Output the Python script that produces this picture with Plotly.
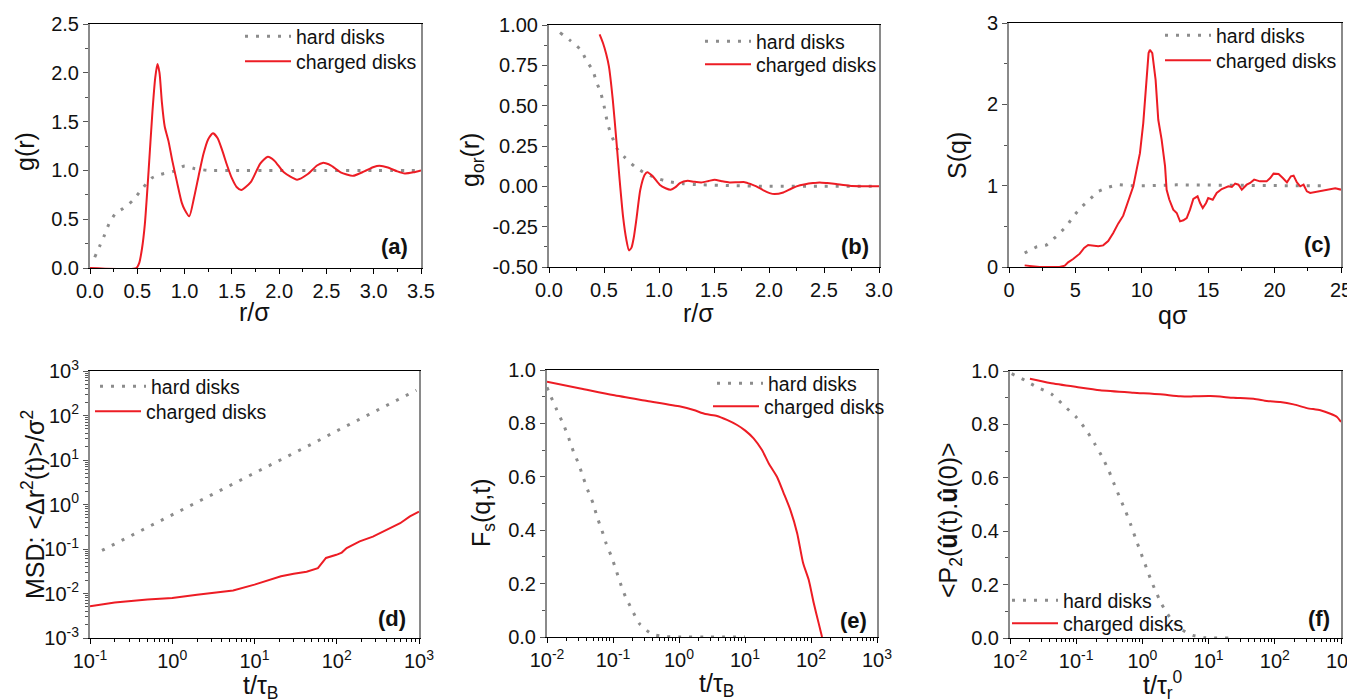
import plotly.graph_objects as go

S = 8  # browser body margin offset (page pixels)
W, H = 1355 - S, 700 - S
RED = "#ed1c24"
GRAY = "#8c8c8c"
AXGRAY = "#8a8a8a"
FONT = "Liberation Sans, Arial, sans-serif"

# ---------------- data ----------------
# (a) g(r)
a_hard_r = [0.05, 0.1, 0.15, 0.2, 0.27, 0.35, 0.45, 0.55, 0.65, 0.75, 0.88, 1.0, 1.1, 1.25, 1.5, 2.0, 2.5, 3.0, 3.5]
a_hard_g = [0.11, 0.22, 0.33, 0.45, 0.56, 0.61, 0.69, 0.81, 0.92, 0.96, 0.99, 1.045, 1.02, 1.0, 1.0, 1.0, 1.0, 1.0, 1.0]
a_chg_r = [0.0, 0.49, 0.52, 0.55, 0.58, 0.62, 0.66, 0.69, 0.713, 0.735, 0.76, 0.79, 0.83, 0.87, 0.92, 0.97,
           1.0, 1.05, 1.1, 1.15, 1.2, 1.25, 1.3, 1.35, 1.4, 1.45, 1.5, 1.55, 1.6, 1.7, 1.8, 1.88, 1.95, 2.05,
           2.19, 2.3, 2.4, 2.46, 2.55, 2.65, 2.78, 2.9, 3.0, 3.06, 3.15, 3.25, 3.33, 3.42, 3.5]
a_chg_g = [0.0, 0.0, 0.05, 0.2, 0.45, 1.0, 1.6, 1.95, 2.09, 2.0, 1.7, 1.45, 1.3, 1.1, 0.88, 0.67,
           0.6, 0.53, 0.72, 0.95, 1.17, 1.32, 1.38, 1.33, 1.2, 1.05, 0.92, 0.83, 0.80, 0.88, 1.07, 1.14, 1.1, 0.98,
           0.905, 0.96, 1.05, 1.077, 1.05, 0.98, 0.944, 0.99, 1.035, 1.047, 1.03, 0.99, 0.968, 0.98, 1.0]

# (b) g_or(r)
b_hard_r = [0.1, 0.2, 0.29, 0.34, 0.4, 0.43, 0.47, 0.5, 0.536, 0.573, 0.612, 0.688, 0.78, 0.87, 0.976,
            1.08, 1.22, 1.37, 1.67, 2.0, 2.5, 3.0]
b_hard_g = [0.953, 0.90, 0.845, 0.78, 0.715, 0.65, 0.58, 0.50, 0.38, 0.31, 0.24, 0.18, 0.123, 0.082, 0.051,
            0.03, 0.016, 0.01, 0.004, 0.0, 0.0, 0.0]
b_chg_r = [0.46, 0.49, 0.52, 0.545, 0.58, 0.612, 0.642, 0.673, 0.703, 0.727, 0.75, 0.77, 0.794, 0.83, 0.87,
           0.894, 0.945, 1.006, 1.06, 1.106, 1.15, 1.19, 1.26, 1.32, 1.385, 1.45, 1.506, 1.57, 1.64, 1.71,
           1.78, 1.84, 1.885, 1.95, 2.006, 2.05, 2.13, 2.2, 2.25, 2.33, 2.4, 2.46, 2.53, 2.61, 2.73, 2.85, 3.0]
b_chg_g = [0.942, 0.89, 0.82, 0.742, 0.536, 0.288, 0.041, -0.186, -0.33, -0.397, -0.38, -0.32, -0.207, -0.021,
           0.072, 0.088, 0.061, 0.01, -0.012, -0.021, -0.005, 0.02, 0.034, 0.028, 0.024, 0.033, 0.041, 0.032,
           0.024, 0.025, 0.026, 0.012, 0.0, -0.025, -0.042, -0.048, -0.038, -0.015, 0.0, 0.013, 0.02, 0.024,
           0.02, 0.014, 0.004, 0.001, 0.0]

# (c) S(q)
c_hard_q = [1.18, 2.06, 2.82, 3.57, 4.33, 4.88, 5.51, 6.14, 6.72, 7.47, 8.22, 9.1, 10.5, 12.6, 15.0, 18.0, 21.0, 23.5]
c_hard_s = [0.172, 0.246, 0.27, 0.377, 0.5, 0.63, 0.746, 0.836, 0.93, 0.98, 1.012, 1.0, 1.0, 1.01, 1.005, 1.0, 1.0, 1.0]
c_chg_q = [1.18, 1.8, 2.3, 3.8, 4.2, 4.45, 4.83, 5.33, 5.66, 5.96, 6.34, 6.72, 7.09, 7.47, 7.85, 8.22, 8.6,
           8.85, 9.1, 9.36, 9.61, 9.86, 10.11, 10.31, 10.51, 10.61, 10.79, 11.04, 11.24, 11.49, 11.75, 11.87,
           12.07, 12.37, 12.63, 12.88, 13.13, 13.38, 13.63, 13.88, 14.2, 14.39, 14.59, 14.84, 15.0, 15.34,
           15.64, 16.02, 16.52, 16.78, 17.03, 17.28, 17.53, 17.9, 18.16, 18.46, 18.9, 19.4, 19.67, 19.92,
           20.3, 20.62, 20.93, 21.23, 21.43, 21.68, 21.93, 22.18, 22.43, 22.68, 23.19, 23.69, 24.2, 24.57, 25.0]
c_chg_s = [0.02, 0.008, 0.0, 0.0, 0.016, 0.057, 0.098, 0.164, 0.234, 0.27, 0.262, 0.254, 0.266, 0.32, 0.418,
           0.533, 0.631, 0.746, 0.869, 0.992, 1.197, 1.40, 1.77, 2.22, 2.63, 2.67, 2.63, 2.30, 1.81, 1.57, 1.24,
           0.95, 0.83, 0.705, 0.664, 0.561, 0.574, 0.602, 0.705, 0.836, 0.869, 0.787, 0.725, 0.787, 0.848,
           0.828, 0.91, 0.959, 0.992, 0.984, 1.025, 1.012, 0.951, 1.012, 1.033, 1.074, 1.053, 1.053, 1.094,
           1.148, 1.144, 1.094, 1.041, 1.115, 1.123, 1.041, 0.992, 1.012, 0.93, 0.91, 0.926, 0.943, 0.959,
           0.967, 0.951]

# (d) MSD
d_hard_t = [0.14, 0.2, 0.3, 0.5, 1, 2, 3, 5, 10, 20, 30, 50, 100, 200, 300, 500, 930]
d_hard_m = [0.093, 0.13, 0.19, 0.30, 0.58, 1.1, 1.6, 2.6, 5.1, 9.8, 14.5, 23, 45, 87, 128, 205, 370]
d_chg_t = [0.1, 0.2, 0.5, 1, 2, 5.5, 10, 15.5, 21, 30, 43, 59, 66, 74, 99, 115, 132, 190, 275, 400, 590, 775, 1000]
d_chg_m = [0.00515, 0.0063, 0.0073, 0.0079, 0.0094, 0.0117, 0.0158, 0.020, 0.0243, 0.0279, 0.0309, 0.037,
           0.048, 0.063, 0.074, 0.083, 0.105, 0.148, 0.19, 0.27, 0.38, 0.54, 0.69]

# (e) Fs(q,t)
e_hard_t = [0.01, 0.0112, 0.0141, 0.0179, 0.0214, 0.0251, 0.0302, 0.0351, 0.0413, 0.0501, 0.0575, 0.068,
            0.0783, 0.0944, 0.111, 0.129, 0.154, 0.194, 0.251, 0.389, 0.589, 1.0, 3.0, 10.0]
e_hard_f = [0.935, 0.906, 0.85, 0.794, 0.744, 0.695, 0.648, 0.60, 0.551, 0.50, 0.449, 0.399, 0.352, 0.302,
            0.252, 0.202, 0.152, 0.102, 0.05, 0.011, 0.002, 0.0, 0.0, 0.0]
e_chg_t = [0.01, 0.032, 0.1, 0.33, 1.05, 1.67, 2.51, 3.77, 5.33, 7.59, 10.1, 13.5, 18.1, 22.9, 30.5, 38.5,
           48.6, 61.7, 75.9, 92.3, 110, 130.6, 147]
e_chg_f = [0.956, 0.931, 0.906, 0.884, 0.863, 0.85, 0.835, 0.828, 0.813, 0.794, 0.773, 0.744, 0.70, 0.65,
           0.60, 0.539, 0.476, 0.389, 0.277, 0.214, 0.127, 0.052, 0.0]

# (f) <P2(u(t).u(0))>
f_hard_t = [0.0106, 0.0169, 0.0253, 0.0427, 0.0661, 0.102, 0.145, 0.193, 0.251, 0.314, 0.378, 0.46, 0.555,
            0.668, 0.785, 0.925, 1.1, 1.31, 1.58, 1.96, 2.57, 3.72, 5.78, 8.91, 20.0]
f_hard_p = [0.99, 0.965, 0.94, 0.913, 0.869, 0.825, 0.775, 0.725, 0.675, 0.624, 0.574, 0.523, 0.476, 0.424,
            0.375, 0.326, 0.276, 0.225, 0.176, 0.126, 0.079, 0.035, 0.01, 0.001, 0.0]
f_chg_t = [0.02, 0.0403, 0.102, 0.229, 0.733, 1.85, 3.72, 5.89, 10.6, 23.8, 47.9, 75.9, 121, 192, 306, 488,
           692, 871, 1000]
f_chg_p = [0.971, 0.955, 0.94, 0.928, 0.919, 0.913, 0.905, 0.905, 0.906, 0.90, 0.896, 0.888, 0.884, 0.875,
           0.861, 0.853, 0.84, 0.828, 0.809]

log_tickvals_d = [0.1, 1, 10, 100, 1000]
log_ticktext_d = ["10<sup>-1</sup>", "10<sup>0</sup>", "10<sup>1</sup>", "10<sup>2</sup>", "10<sup>3</sup>"]
log_yvals_d = [0.001, 0.01, 0.1, 1, 10, 100, 1000]
log_ytext_d = ["10<sup>-3</sup>", "10<sup>-2</sup>", "10<sup>-1</sup>", "10<sup>0</sup>",
               "10<sup>1</sup>", "10<sup>2</sup>", "10<sup>3</sup>"]
log_tickvals_ef = [0.01, 0.1, 1, 10, 100, 1000]
log_ticktext_ef = ["10<sup>-2</sup>", "10<sup>-1</sup>", "10<sup>0</sup>", "10<sup>1</sup>",
                   "10<sup>2</sup>", "10<sup>3</sup>"]


# ---------------- figure ----------------
def X(px):
    return (px - S) / W


def Y(py):
    return 1 - (py - S) / H


fig = go.Figure()
DOT = dict(color=GRAY, width=3, dash="3px,8px")
SOLID = dict(color=RED, width=2)

panels = [
    (1, a_hard_r, a_hard_g, a_chg_r, a_chg_g, "spline"),
    (2, b_hard_r, b_hard_g, b_chg_r, b_chg_g, "spline"),
    (3, c_hard_q, c_hard_s, c_chg_q, c_chg_s, "linear"),
    (4, d_hard_t, d_hard_m, d_chg_t, d_chg_m, "linear"),
    (5, e_hard_t, e_hard_f, e_chg_t, e_chg_f, "spline"),
    (6, f_hard_t, f_hard_p, f_chg_t, f_chg_p, "spline"),
]
for i, hx, hy, cx, cy, shp in panels:
    xa = "x" if i == 1 else "x%d" % i
    ya = "y" if i == 1 else "y%d" % i
    lh = "legend" if i == 1 else "legend%d" % (2 * i - 1)
    lc = "legend%d" % (2 * i)
    hl = dict(DOT, shape="spline", smoothing=0.6) if shp == "spline" else dict(DOT)
    cl = dict(SOLID, shape="spline", smoothing=0.6) if shp == "spline" else dict(SOLID)
    fig.add_trace(go.Scatter(x=hx, y=hy, mode="lines", name="hard disks", line=hl, showlegend=True,
                             xaxis=xa, yaxis=ya, legend=lh))
    fig.add_trace(go.Scatter(x=cx, y=cy, mode="lines", name="charged disks", line=cl, showlegend=True,
                             xaxis=xa, yaxis=ya, legend=lc))

tickfont = dict(family=FONT, size=20, color="#111111")


def xax(domain, rng, log=False, **kw):
    d = dict(domain=domain, range=rng, type="log" if log else "linear",
             showline=True, linecolor="black", linewidth=1, mirror=True,
             ticks="outside", ticklen=5, tickwidth=1, tickcolor="black", layer="below traces",
             showgrid=False, zeroline=False, tickfont=tickfont, automargin=False,
             ticklabeloverflow="allow")
    d.update(kw)
    return d


def yax(domain, rng, log=False, **kw):
    d = dict(domain=domain, range=rng, type="log" if log else "linear",
             showline=True, linecolor=AXGRAY, linewidth=2, mirror=True,
             ticks="outside", ticklen=5, tickwidth=1, tickcolor="#555555",
             showgrid=False, zeroline=False, tickfont=tickfont, automargin=False,
             ticklabeloverflow="allow")
    d.update(kw)
    return d


def minor_lin(dt, col="black"):
    return dict(ticks="outside", ticklen=3, dtick=dt, tickcolor=col, showgrid=False)


def minor_log(col="black"):
    return dict(ticks="outside", ticklen=3, dtick="D1", tickcolor=col, showgrid=False)


fig.update_layout(
    width=W, height=H, margin=dict(l=0, r=0, t=0, b=0),
    paper_bgcolor="white", plot_bgcolor="white", showlegend=True,
    font=dict(family=FONT, size=19, color="#111111"),
    xaxis=xax([X(90), X(421)], [0, 3.5], dtick=0.5, tickformat=".1f", minor=minor_lin(0.25)),
    yaxis=yax([Y(268), Y(24)], [0, 2.5], dtick=0.5, tickformat=".1f", minor=minor_lin(0.25, "#555555"), anchor="x"),
    xaxis2=xax([X(549), X(879)], [0, 3.0], dtick=0.5, tickformat=".1f", minor=minor_lin(0.25), anchor="y2"),
    yaxis2=yax([Y(267), Y(25)], [-0.5, 1.0], tickmode="array",
               tickvals=[-0.5, -0.25, 0, 0.25, 0.5, 0.75, 1.0],
               ticktext=["-0.50", "-0.25", "0.00", "0.25", "0.50", "0.75", "1.00"],
               minor=minor_lin(0.125, "#555555"), anchor="x2"),
    xaxis3=xax([X(1009), X(1341)], [0, 25], dtick=5, minor=minor_lin(2.5), anchor="y3"),
    yaxis3=yax([Y(267), Y(23)], [0, 3], dtick=1, minor=minor_lin(0.5, "#555555"), anchor="x3"),
    xaxis4=xax([X(90), X(419)], [-1, 3], log=True, tickmode="array", tickvals=log_tickvals_d,
               ticktext=log_ticktext_d, minor=minor_log(), anchor="y4"),
    yaxis4=yax([Y(638), Y(371)], [-3, 3], log=True, tickmode="array", tickvals=log_yvals_d,
               ticktext=log_ytext_d, minor=minor_log("#555555"), anchor="x4"),
    xaxis5=xax([X(547), X(877)], [-2, 3], log=True, tickmode="array", tickvals=log_tickvals_ef,
               ticktext=log_ticktext_ef, minor=minor_log(), anchor="y5"),
    yaxis5=yax([Y(637), Y(370)], [0, 1], dtick=0.2, tickformat=".1f", minor=minor_lin(0.1, "#555555"), anchor="x5"),
    xaxis6=xax([X(1010), X(1341)], [-2, 3], log=True, tickmode="array", tickvals=log_tickvals_ef,
               ticktext=log_ticktext_ef, minor=minor_log(), anchor="y6"),
    yaxis6=yax([Y(638), Y(371)], [0, 1], dtick=0.2, tickformat=".1f", minor=minor_lin(0.1, "#555555"), anchor="x6"),
)

legfont = dict(family=FONT, size=19.5, color="#111111")
# legend box (left, top) in page pixels: one legend per entry
leg_pos = {
    "legend": (240, 17), "legend2": (240, 42),
    "legend3": (700, 22), "legend4": (700, 45),
    "legend5": (1160, 16), "legend6": (1160, 41),
    "legend7": (95, 367), "legend8": (90, 392),
    "legend9": (712, 364), "legend10": (708, 387),
    "legend11": (1007, 581), "legend12": (1007, 604),
}
for k, (lx, ly) in leg_pos.items():
    fig.update_layout({k: dict(x=X(lx), y=Y(ly), xanchor="left", yanchor="top", xref="paper", yref="paper",
                               bgcolor="rgba(0,0,0,0)", borderwidth=0, font=legfont, itemwidth=46,
                               visible=True)})

ann = []
# panel labels
for txt, px, py in [("(a)", 394, 246), ("(b)", 855, 246), ("(c)", 1317, 245),
                    ("(d)", 392, 618), ("(e)", 853, 620), ("(f)", 1319, 618)]:
    ann.append(dict(text="<b>%s</b>" % txt, x=X(px), y=Y(py), xref="paper", yref="paper",
                    showarrow=False, font=dict(family=FONT, size=22, color="#111111"),
                    xanchor="center", yanchor="middle"))
# axis titles
TF = dict(family=FONT, size=25, color="#111111")
for txt, px, py, ang in [
    ("g(r)", 25, 152, -90),
    ("r/σ", 254, 312, 0),
    ("g<sub>or</sub>(r)", 472, 160, -90),
    ("r/σ", 698, 313, 0),
    ("S(q)", 957, 155, -90),
    ("qσ", 1173, 315, 0),
    ("MSD: &lt;Δr<sup>2</sup>(t)&gt;/σ<sup>2</sup>", 33, 505, -90),
    ("t/τ<sub>B</sub>", 260, 687, 0),
    ("F<sub>s</sub>(q,t)", 483, 513, -90),
    ("t/τ<sub>B</sub>", 716, 685, 0),
    ("&lt;P<sub>2</sub>(<b>û</b>(t).<b>û</b>(0)&gt;", 950, 520, -90),
    ("t/τ<sub>r</sub><sup>0</sup>", 1163, 685, 0),
]:
    ann.append(dict(text=txt, x=X(px), y=Y(py), xref="paper", yref="paper", showarrow=False,
                    font=TF, textangle=ang, xanchor="center", yanchor="middle"))
fig.update_layout(annotations=ann)

fig.write_html("out.html")
